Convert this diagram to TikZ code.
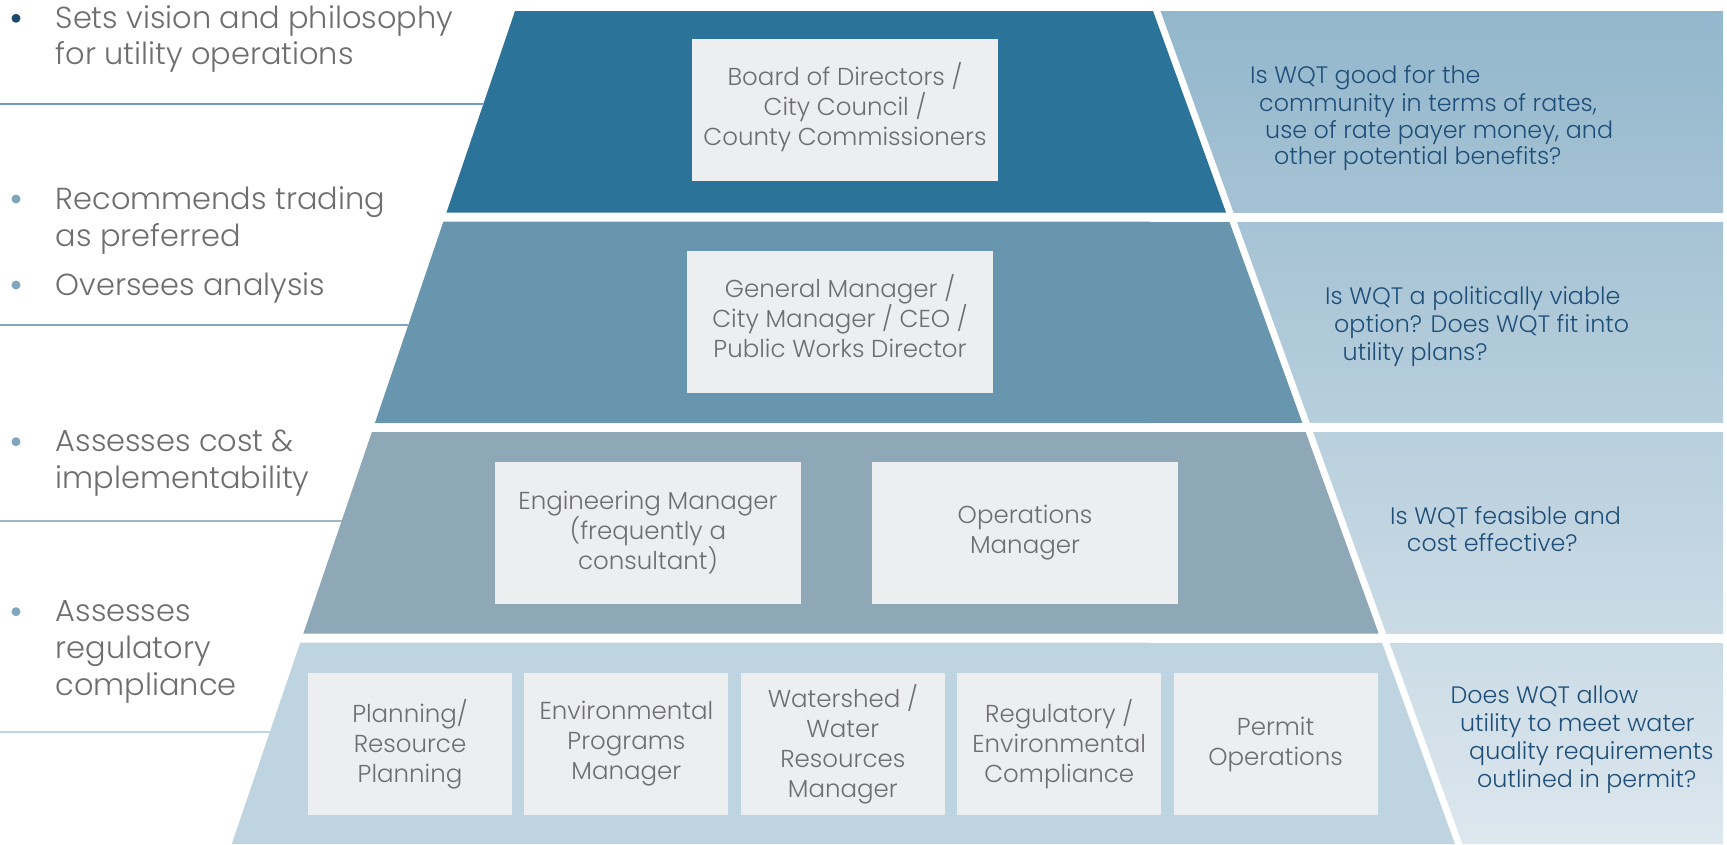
\documentclass[tikz,border=0pt]{standalone}
\usepackage{fontspec}
\IfFontExistsTF{Poppins Light}{\setmainfont{Poppins Light}}{\setmainfont{Poppins}}
\usetikzlibrary{calc}
\usetikzlibrary{positioning}
\definecolor{tierA}{HTML}{2C7399}
\definecolor{tierB}{HTML}{6896AE}
\definecolor{tierC}{HTML}{8FA8B7}
\definecolor{tierD}{HTML}{BED4E1}
\definecolor{panelTop}{HTML}{93B7CC}
\definecolor{panelMid}{HTML}{A9C3D3}
\definecolor{panelBot}{HTML}{DDE7EE}
\definecolor{boxgray}{HTML}{EDEEF0}
\definecolor{roletext}{HTML}{6E6E70}
\definecolor{asktext}{HTML}{1F4F78}
\definecolor{dotA}{HTML}{1B4A6E}
\definecolor{dotB}{HTML}{7FA6BD}
\definecolor{sepA}{HTML}{6E9FBF}
\definecolor{sepB}{HTML}{80A7BF}
\definecolor{sepC}{HTML}{9FB6C4}
\definecolor{sepD}{HTML}{C2D6E1}

\begin{document}
\begin{tikzpicture}[x=1pt,y=-1pt,
    role/.style={fill=boxgray,text=roletext,align=center,minimum width=306,minimum height=142,inner sep=0pt,font=\fontsize{24.5}{30}\selectfont},
    smallrole/.style={role,minimum width=204},
    duty/.style={text=roletext,anchor=base west,inner sep=0pt,font=\fontsize{30.4}{36}\selectfont},
    ask/.style={text=asktext,anchor=base west,inner sep=0pt,font=\fontsize{23.8}{28}\selectfont},
    dot/.style={circle,inner sep=0pt,minimum size=9}]
    \useasboundingbox (0,0) rectangle (1727,844);
    % pyramid tiers
    \foreach \ya/\col in {11/tierA,221.5/tierB,432/tierC,642.5/tierD}{
        \pgfmathsetmacro\yb{\ya+201.5}
        \fill[\col] ({515-0.34*(\ya-11)},\ya) -- ({1153+0.3625*(\ya-11)},\ya) -- ({1153+0.3625*(\yb-11)},\yb) -- ({515-0.34*(\yb-11)},\yb) -- cycle;
    }
    % question column
    \shade[top color=panelTop,middle color=panelMid,bottom color=panelBot] (1160.5,11) -- (1723,11) -- (1723,844) -- (1462.5,844) -- cycle;
    \foreach \y in {212.5,423,633.5}
        \fill[white] (1150,\y) rectangle (1727,\y+9);
    % separators on the left
    \foreach \y/\col in {103.5/sepA,325/sepB,520.5/sepC,732/sepD}
        \draw[\col,line width=2] (0,\y) -- ({515-0.34*(\y-11)},\y);
    % bullets and duties
    \node[dot,fill=dotA] (d1) at (16,18.3) {};
    \node[dot,fill=dotB] (d2) at (16,199) {};
    \node[dot,fill=dotB] (d3) at (16,285) {};
    \node[dot,fill=dotB] (d4) at (16,441.7) {};
    \node[dot,fill=dotB] (d5) at (16,611.7) {};
    \node[duty] (vision1) at (55.5,28.3) {Sets vision and philosophy};
    \node[duty] (vision2) at (55.5,64.8) {for utility operations};
    \node[duty] (recom1) at (55.5,209) {Recommends trading};
    \node[duty] (recom2) at (55.5,246) {as preferred};
    \node[duty] (overs) at (55.5,295) {Oversees analysis};
    \node[duty] (cost1) at (55.5,451.7) {Assesses cost \&};
    \node[duty] (cost2) at (55.5,488.3) {implementability};
    \node[duty] (reg1) at (55.5,621.7) {Assesses};
    \node[duty] (reg2) at (55.5,658.4) {regulatory};
    \node[duty] (reg3) at (55.5,695) {compliance};
    % roles
    \node[role,text depth=12] (board) at (845,110) {Board of Directors /\\City Council /\\County Commissioners};
    \node[role,text depth=13] (gm) at (840,322) {General Manager /\\City Manager / CEO /\\Public Works Director};
    \node[role] (eng) at (648,532.5) {Engineering Manager\\(frequently a\\consultant)};
    \node[role] (ops) at (1025,532.5) {Operations\\Manager};
    \node[smallrole] (plan) at (410,744) {Planning/\\Resource\\Planning};
    \node[smallrole,right=12 of plan] (envp) {Environmental\\Programs\\Manager};
    \node[smallrole,right=12 of envp] (wshed) {Watershed /\\Water\\Resources\\Manager};
    \node[smallrole,right=12 of wshed] (regc) {Regulatory /\\Environmental\\Compliance};
    \node[smallrole,right=12 of regc] (permit) {Permit\\Operations};
    % questions
    \begin{scope}[every node/.append style={font=\fontsize{22.7}{28}\selectfont}]
    \node[ask] (q1a) at (1250,83.3) {Is WQT good for the};
    \node[ask] (q1b) at (1259,111) {community in terms of rates,};
    \node[ask] (q1c) at (1265,138.3) {use of rate payer money, and};
    \node[ask] (q1d) at (1274,164.5) {other potential benefits?};
    \end{scope}
    \node[ask] (q2a) at (1325,304) {Is WQT a politically viable};
    \node[ask] (q2b) at (1334,332.5) {option? Does WQT fit into};
    \node[ask] (q2c) at (1342.5,360) {utility plans?};
    \node[ask] (q3a) at (1390,524) {Is WQT feasible and};
    \node[ask] (q3b) at (1406.7,551.7) {cost effective?};
    \begin{scope}[every node/.append style={font=\fontsize{23.2}{28}\selectfont}]
    \node[ask] (q4a) at (1450.4,703.3) {Does WQT allow};
    \node[ask] (q4b) at (1459.8,731.7) {utility to meet water};
    \node[ask] (q4c) at (1469,759.3) {quality requirements};
    \node[ask] (q4d) at (1477,787.7) {outlined in permit?};
    \end{scope}
\end{tikzpicture}
\end{document}
